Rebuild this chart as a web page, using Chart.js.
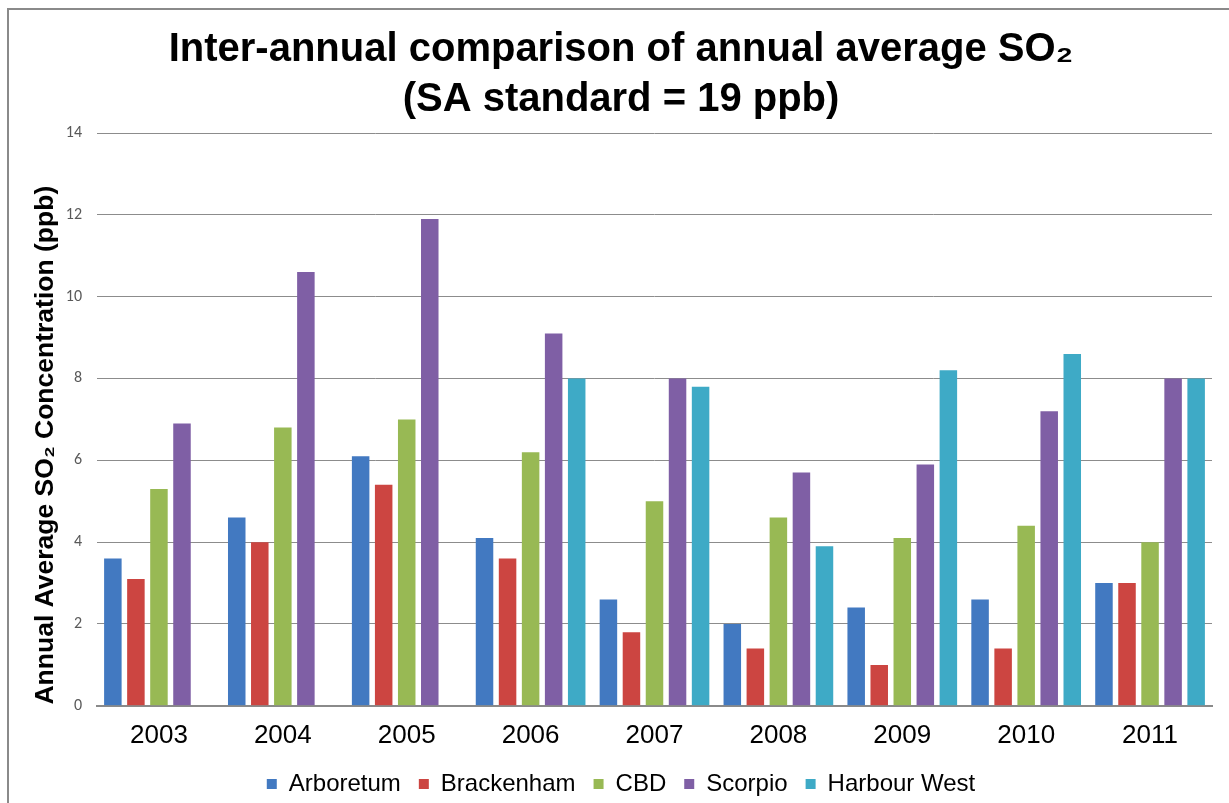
<!DOCTYPE html>
<html>
<head>
<meta charset="utf-8">
<script src="https://cdn.jsdelivr.net/npm/chart.js@4.4.1/dist/chart.umd.min.js"></script>
<style>
  body { margin: 0; background: #fff; }
  #wrap { width: 1229px; height: 803px; }
</style>
</head>
<body>
<div id="wrap"><canvas id="graphSO2"></canvas></div>
<script>
// annees et stations
var annees = ['2003', '2004', '2005', '2006', '2007', '2008', '2009', '2010', '2011'];
var stations = ['Arboretum', 'Brackenham', 'CBD', 'Scorpio', 'Harbour West'];

// moyennes annuelles SO2 (ppb)
var arboretum  = [3.6, 4.6, 6.1, 4.1, 2.6, 2.0, 2.4, 2.6, 3.0];
var brackenham = [3.1, 4.0, 5.4, 3.6, 1.8, 1.4, 1.0, 1.4, 3.0];
var cbd        = [5.3, 6.8, 7.0, 6.2, 5.0, 4.6, 4.1, 4.4, 4.0];
var scorpio    = [6.9, 10.6, 11.9, 9.1, 8.0, 5.7, 5.9, 7.2, 8.0];
var harbourWest = [null, null, null, 8.0, 7.8, 3.9, 8.2, 8.6, 8.0];

var yTicks = [0, 2, 4, 6, 8, 10, 12, 14];

var couleurs = ['#4279c1', '#cc4541', '#98b954', '#7f5fa5', '#3eaac6'];
var series = [arboretum, brackenham, cbd, scorpio, harbourWest];

var datasets = stations.map(function(nom, i) {
    return {
        label: nom,
        data: series[i],
        backgroundColor: couleurs[i],
        barPercentage: 0.76,
        categoryPercentage: 0.93
    };
});

// cadre gris en haut et a gauche
var cadre = {
    id: 'cadre',
    beforeDraw: function(chart) {
        var ctx = chart.ctx;
        ctx.save();
        ctx.fillStyle = '#fff';
        ctx.fillRect(0, 0, chart.width, chart.height);
        ctx.strokeStyle = '#8a8a8a';
        ctx.lineWidth = 2;
        ctx.beginPath();
        ctx.moveTo(8, chart.height);
        ctx.lineTo(8, 9);
        ctx.lineTo(chart.width, 9);
        ctx.stroke();
        ctx.restore();
    }
};

var ctx = document.getElementById('graphSO2').getContext('2d');
var barChart = new Chart(ctx, {
    type: 'bar',
    data: {
        labels: annees,
        datasets: datasets
    },
    plugins: [cadre],
    options: {
        responsive: true,
        maintainAspectRatio: false,
        animation: false,
        layout: {
            padding: { left: 30, right: 17, top: 14, bottom: -3 }
        },
        plugins: {
            title: {
                display: true,
                text: ['Inter-annual comparison of annual average SO\u2082', '(SA standard = 19 ppb)'],
                color: '#000',
                font: { family: 'Liberation Sans', size: 40, weight: 'bold', lineHeight: 1.25 },
                padding: { top: 11, bottom: 8 }
            },
            legend: {
                position: 'bottom',
                labels: {
                    color: '#000',
                    font: { family: 'Liberation Sans', size: 24 },
                    boxWidth: 10,
                    boxHeight: 10,
                    padding: 18
                }
            },
            tooltip: { enabled: false }
        },
        scales: {
            x: {
                grid: { display: false, drawTicks: false },
                border: { color: '#8a8a8a', width: 2 },
                afterFit: function(axis) {
                    axis.height = axis.height - 11;
                },
                ticks: {
                    color: '#000',
                    font: { family: 'Liberation Sans', size: 26 },
                    padding: 14
                }
            },
            y: {
                min: 0,
                max: 14,
                afterBuildTicks: function(axis) {
                    axis.ticks = yTicks.map(function(v) { return { value: v }; });
                },
                afterFit: function(axis) {
                    axis.width = 67;
                },
                grid: { color: '#8c8c8c', lineWidth: 1, drawTicks: false },
                border: { display: false },
                ticks: {
                    color: '#595959',
                    font: { family: 'Carlito', size: 16 },
                    padding: 15
                },
                title: {
                    display: true,
                    text: 'Annual Average SO\u2082 Concentration (ppb)\u00a0\u00a0\u00a0\u00a0\u00a0\u00a0\u00a0',
                    color: '#000',
                    font: { family: 'Liberation Sans', size: 26.5, weight: 'bold' },
                    padding: { top: 0, bottom: 4 }
                }
            }
        }
    }
});
</script>
</body>
</html>
